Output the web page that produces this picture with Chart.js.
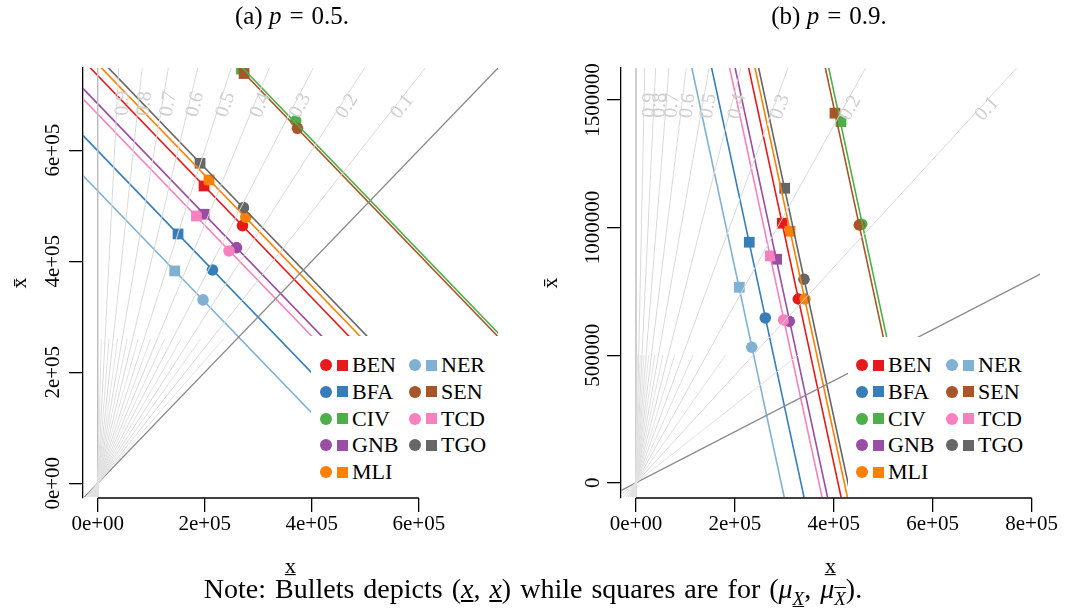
<!DOCTYPE html>
<html lang="en">
<head>
<meta charset="UTF-8">
<title>Bounds and means, p = 0.5 and p = 0.9</title>
<script src="https://cdn.jsdelivr.net/npm/chart.js"></script>
<style>
  body { margin: 0; background: #fff; font-family: "Liberation Serif", "Times New Roman", serif; }
  #wrap { position: relative; width: 1066px; height: 612px; overflow: hidden; background: #fff; }
  canvas { position: absolute; top: 0; }
  #chartA { left: 0; }
  #chartB { left: 533px; }
  .ttl { position: absolute; top: 2px; font-size: 25px; transform: translateX(-50%); white-space: nowrap; }
  .eq { margin: 0 8px; }
  .note { position: absolute; top: 573px; left: 533px; font-size: 28px; word-spacing: 2px; transform: translateX(-50%); white-space: nowrap; }
  .note sub { font-size: 19px; }
  .ul { text-decoration: underline; }
  .ol { text-decoration: overline; }
  .legend { position: absolute; background: #fff; }
  .mk { position: absolute; }
  .lt { position: absolute; font-size: 22px; line-height: 22px; }
</style>
</head>
<body>
<div id="wrap">
  <canvas id="chartA" width="533" height="612"></canvas>
  <canvas id="chartB" width="533" height="612"></canvas>
  <div class="ttl" style="left:292px">(a) <i>p</i><span class="eq">=</span>0.5.</div>
  <div class="ttl" style="left:829px">(b) <i>p</i><span class="eq">=</span>0.9.</div>
  <div class="note">Note: Bullets depicts (<i class="ul">x</i>, <i class="ul">x</i>) while squares are for (<i>μ</i><sub><i class="ul">X</i></sub>, <i>μ</i><sub><i class="ol">X</i></sub>).</div>
</div>

<script>
// countries and their colours
const countries = ['BEN', 'BFA', 'CIV', 'GNB', 'MLI', 'NER', 'SEN', 'TCD', 'TGO'];
const colours = ['#e41a1c', '#377eb8', '#4daf4a', '#984ea3', '#ff7f00', '#80b1d3', '#a65628', '#f781bf', '#666666'];

// grey rays from the origin and their labels
const rayLabels = ['0.1', '0.2', '0.3', '0.4', '0.5', '0.6', '0.7', '0.8', '0.9'];

// (a) p = 0.5
const pA = 0.5;
const bulletXA = [270500, 214400, 370000, 259300, 276600, 196800, 373300, 245400, 272300];
const bulletYA = [464100, 384300, 653000, 424500, 479200, 330300, 639400, 418500, 496500];
const squareXA = [198700, 150100, 268600, 198700, 208000, 143900, 273500, 184500, 191200];
const squareYA = [535500, 449100, 746000, 484600, 546300, 382500, 738000, 481500, 576400];
const raySlopeA = [1.222, 1.5, 1.857, 2.333, 3.0, 4.0, 5.667, 9.0, 19.0];
const shortRaySlopeA = [1.105, 1.353, 1.667, 2.077, 2.636, 3.444, 4.714, 7.0, 12.33, 39.0];
const xTicksA = [0, 200000, 400000, 600000];
const xLabelsA = ['0e+00', '2e+05', '4e+05', '6e+05'];
const yTicksA = [0, 200000, 400000, 600000];
const yLabelsA = ['0e+00', '2e+05', '4e+05', '6e+05'];

// (b) p = 0.9
const pB = 0.9;
const bulletXB = [328200, 261500, 456400, 310000, 341700, 234000, 451500, 298700, 339700];
const bulletYB = [720000, 645700, 1013000, 632800, 720000, 530900, 1010000, 637900, 797400];
const squareXB = [295800, 229100, 414500, 284500, 311400, 208900, 402400, 271600, 300700];
const squareYB = [1017000, 942400, 1415000, 875800, 985500, 766000, 1448000, 888700, 1154000];
const raySlopeB = [2.111, 3.5, 5.286, 7.667, 11.0, 16.0, 24.33, 41.0, 91.0];
const shortRaySlopeB = [1.526, 2.765, 4.333, 6.385, 9.182, 13.22, 19.57, 31.0, 57.67, 191.0];
const xTicksB = [0, 200000, 400000, 600000, 800000];
const xLabelsB = ['0e+00', '2e+05', '4e+05', '6e+05', '8e+05'];
const yTicksB = [0, 500000, 1000000, 1500000];
const yLabelsB = ['0', '500000', '1000000', '1500000'];

const FONT = '"Liberation Serif", "Times New Roman", serif';

function lineSet(points, colour, width) {
    return { data: points, showLine: true, borderColor: colour, borderWidth: width,
             pointRadius: 0, fill: false, clip: { left: 0, top: 0, right: 0, bottom: -1 } };
}

function buildDatasets(cfg) {
    const far = 3e6;
    const p = cfg.p;
    const sets = [];
    cfg.shortSlopes.forEach(s => sets.push(lineSet([{x: -far / s, y: -far}, {x: cfg.shortEnd / s, y: cfg.shortEnd}], '#e2e2e2', 1)));
    cfg.slopes.forEach(s => sets.push(lineSet([{x: -far / s, y: -far}, {x: far / s, y: far}], '#dadada', 1)));
    sets.push(lineSet([{x: 0, y: -far}, {x: 0, y: far}], '#bebebe', 1.5));
    sets.push(lineSet([{x: -far, y: -far}, {x: far, y: far}], '#8a8a8a', 1.3));
    // one line per country: p*x + (1-p)*xbar = mean
    countries.forEach((c, i) => {
        const m = p * (cfg.bx[i] + cfg.sx[i]) / 2 + (1 - p) * (cfg.by[i] + cfg.sy[i]) / 2;
        const x1 = -far, x2 = far;
        sets.push(lineSet([{x: x1, y: (m - p * x1) / (1 - p)}, {x: x2, y: (m - p * x2) / (1 - p)}], colours[i], 1.6));
    });
    sets.push({ data: cfg.bx.map((x, i) => ({x: x, y: cfg.by[i]})), pointStyle: 'circle', pointRadius: 5.8,
                pointBackgroundColor: colours, pointBorderWidth: 0, showLine: false });
    sets.push({ data: cfg.sx.map((x, i) => ({x: x, y: cfg.sy[i]})), pointStyle: 'rect', pointRadius: 7.6,
                pointBackgroundColor: colours, pointBorderWidth: 0, showLine: false });
    return sets;
}

// labels along the rays and the x axis line between first and last tick
function panelPlugin(slopes, labelY) {
    return {
        id: 'panelExtras',
        afterDatasetsDraw(chart) {
            const ctx = chart.ctx, xs = chart.scales.x, ys = chart.scales.y;
            const ox = xs.getPixelForValue(0), oy = ys.getPixelForValue(0);
            ctx.save();
            ctx.beginPath();
            ctx.rect(chart.chartArea.left, chart.chartArea.top, chart.chartArea.width, chart.chartArea.height);
            ctx.clip();
            ctx.font = '20px ' + FONT;
            ctx.fillStyle = '#cfcfcf';
            ctx.textAlign = 'center';
            ctx.textBaseline = 'middle';
            slopes.forEach((s, i) => {
                const px = xs.getPixelForValue(labelY / s), py = ys.getPixelForValue(labelY);
                const th = Math.atan2(oy - py, px - ox);
                const d = 6;
                ctx.save();
                ctx.translate(px + d * Math.sin(th), py + d * Math.cos(th));
                ctx.rotate(-th);
                ctx.fillText(rayLabels[i], 0, 0);
                ctx.restore();
            });
            ctx.restore();
        },
        afterDraw(chart) {
            const ctx = chart.ctx, xs = chart.scales.x;
            const t = xs.ticks;
            ctx.save();
            ctx.strokeStyle = '#000';
            ctx.lineWidth = 1.3;
            ctx.beginPath();
            ctx.moveTo(xs.getPixelForValue(t[0].value), chart.chartArea.bottom);
            ctx.lineTo(xs.getPixelForValue(t[t.length - 1].value), chart.chartArea.bottom);
            ctx.stroke();
            ctx.restore();
        }
    };
}

function makePanel(id, cfg) {
    const tickGrid = { display: true, drawOnChartArea: false, drawTicks: true, tickLength: 14,
                       color: '#000', lineWidth: 1.3 };
    new Chart(document.getElementById(id), {
        type: 'scatter',
        data: { datasets: buildDatasets(cfg) },
        options: {
            responsive: false,
            animation: false,
            devicePixelRatio: 1,
            events: [],
            layout: { padding: { left: 0, right: cfg.padRight, top: 68, bottom: 0 } },
            plugins: { legend: { display: false }, tooltip: { enabled: false } },
            scales: {
                x: {
                    type: 'linear', min: cfg.xMin, max: cfg.xMax,
                    afterBuildTicks: s => { s.ticks = cfg.xTicks.map(v => ({value: v})); },
                    afterFit: s => { s.height = 114; },
                    grid: tickGrid,
                    border: { display: false },
                    ticks: { color: '#000', font: { family: FONT, size: 21 }, padding: 0,
                             maxRotation: 0, minRotation: 0, autoSkip: false,
                             callback: (v, i) => cfg.xLabels[i] },
                    title: { display: true, text: 'x\u0332', color: '#000',
                             font: { family: FONT, size: 22 }, padding: { top: 0, bottom: 32 } }
                },
                y: {
                    type: 'linear', min: cfg.yMin, max: cfg.yMax,
                    afterBuildTicks: s => { s.ticks = cfg.yTicks.map(v => ({value: v})); },
                    afterFit: s => { s.width = cfg.yWidth; },
                    grid: tickGrid,
                    border: { display: true, color: '#000', width: 1.3 },
                    ticks: { color: '#000', font: { family: FONT, size: 21 }, padding: cfg.yPad,
                             minRotation: 90, maxRotation: 90, crossAlign: 'center', autoSkip: false,
                             callback: (v, i) => cfg.yLabels[i] },
                    title: { display: true, text: 'x\u0304', color: '#000',
                             font: { family: FONT, size: 22 }, padding: { top: cfg.yTitlePad, bottom: 0 } }
                }
            }
        },
        plugins: [panelPlugin(cfg.slopes, cfg.labelY)]
    });
}

function makeLegend(box, col1, col2) {
    const wrap = document.getElementById('wrap');
    const lg = document.createElement('div');
    lg.className = 'legend';
    lg.style.cssText = `left:${box[0]}px;top:${box[1]}px;width:${box[2]}px;height:${box[3]}px;`;
    wrap.appendChild(lg);
    countries.forEach((c, i) => {
        const cx = (i < 5 ? col1 : col2) - box[0];
        const cy = 365 + 26.75 * (i % 5) - box[1];
        const dot = document.createElement('div');
        dot.className = 'mk';
        dot.style.cssText = `left:${cx - 6}px;top:${cy - 6}px;width:12px;height:12px;border-radius:50%;background:${colours[i]};`;
        const sq = document.createElement('div');
        sq.className = 'mk';
        sq.style.cssText = `left:${cx + 11}px;top:${cy - 5.5}px;width:11px;height:11px;background:${colours[i]};`;
        const tx = document.createElement('div');
        tx.className = 'lt';
        tx.style.cssText = `left:${cx + 26}px;top:${cy - 11}px;`;
        tx.textContent = c;
        lg.appendChild(dot); lg.appendChild(sq); lg.appendChild(tx);
    });
}

makePanel('chartA', {
    p: pA, bx: bulletXA, by: bulletYA, sx: squareXA, sy: squareYA,
    slopes: raySlopeA, shortSlopes: shortRaySlopeA, shortEnd: 260000,
    xMin: -27500, xMax: 748000, yMin: -26500, yMax: 748000,
    xTicks: xTicksA, xLabels: xLabelsA, yTicks: yTicksA, yLabels: yLabelsA,
    padRight: 35, yWidth: 83, yPad: -11, yTitlePad: 7.5, labelY: 685000
});
makePanel('chartB', {
    p: pB, bx: bulletXB, by: bulletYB, sx: squareXB, sy: squareYB,
    slopes: raySlopeB, shortSlopes: shortRaySlopeB, shortEnd: 500000,
    xMin: -30300, xMax: 817000, yMin: -59600, yMax: 1625000,
    xTicks: xTicksB, xLabels: xLabelsB, yTicks: yTicksB, yLabels: yLabelsB,
    padRight: 26, yWidth: 88, yPad: -22.75, yTitlePad: 5, labelY: 1480000
});

makeLegend([311, 336, 187, 161.4], 326, 415);
makeLegend([848, 337, 192, 160.4], 862, 952);
</script>
</body>
</html>
